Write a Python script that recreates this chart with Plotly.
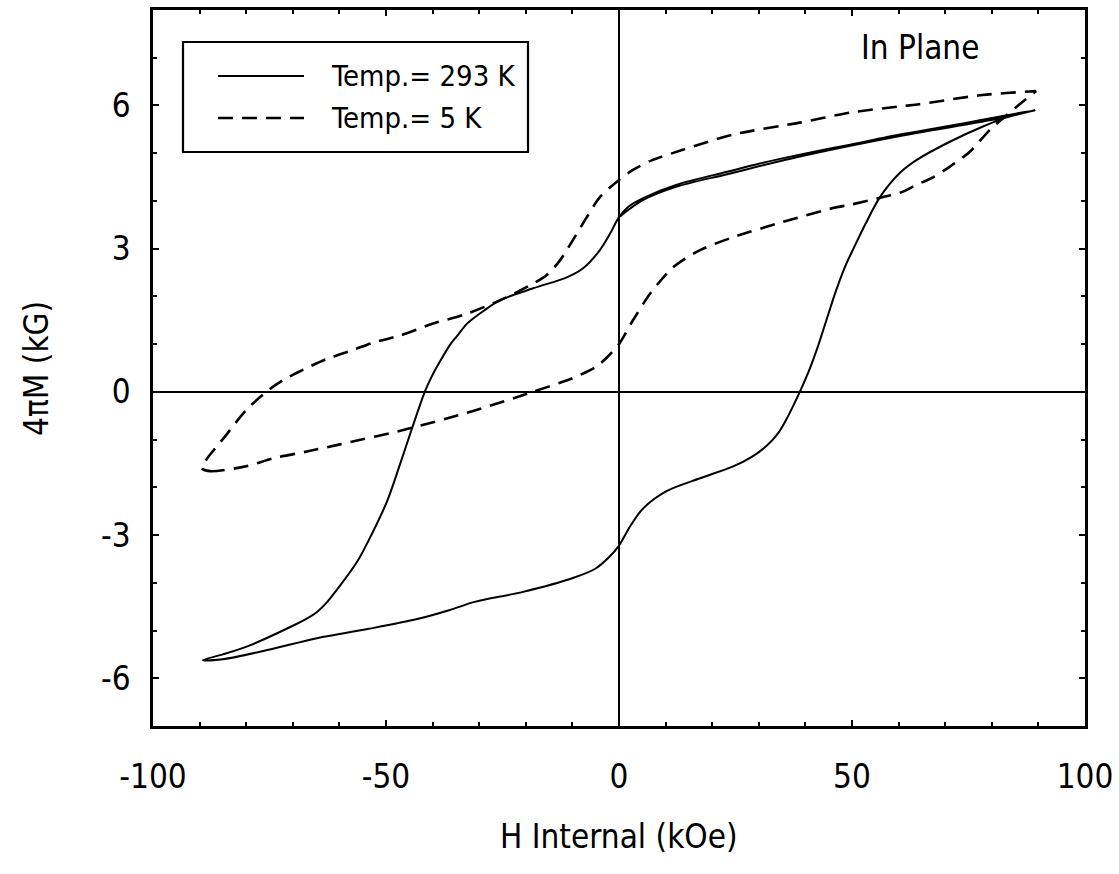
import plotly.graph_objects as go

# ---- 293 K loop (H in kOe, 4piM in kG) ----
# start on the upper branch, run down the descending branch, then back up the ascending branch
h293_start = [0.0, 5.2, 12.4, 23.2, 38.8, 60.3, 81.8, 89.3]
m293_start = [3.66, 4.02, 4.30, 4.56, 4.93, 5.36, 5.73, 5.90]

h293_down = [89.3, 81.8, 74.7, 65.0, 60.3, 49.6, 38.8, 30.0, 23.2, 12.4, 5.2, 2.0, 0.0,
             -2.0, -4.1, -7.7, -11.2, -18.4, -25.5, -29.0, -32.6, -34.5, -36.3, -38.4,
             -40.2, -41.6, -44.4, -47.0, -49.8, -52.8, -56.2, -60.5, -62.6, -64.8, -67.2,
             -70.0, -79.2, -85.0, -89.3]
m293_down = [5.90, 5.77, 5.64, 5.47, 5.39, 5.18, 4.97, 4.78, 4.61, 4.34, 4.06, 3.88, 3.66,
             3.30, 2.97, 2.59, 2.40, 2.17, 1.92, 1.70, 1.43, 1.20, 0.98, 0.64,
             0.32, 0.02, -0.76, -1.52, -2.30, -2.93, -3.56, -4.14, -4.40, -4.61, -4.76,
             -4.90, -5.31, -5.50, -5.62]

h293_up = [-89.3, -85.0, -75.5, -64.8, -54.0, -43.3, -36.3, -31.0, -20.6, -9.9, -5.0,
           -2.0, 0.0, 2.5, 5.2, 10.2, 17.4, 24.5, 28.5, 31.8, 34.2, 36.0, 38.8, 40.8,
           42.5, 44.5, 46.5, 48.5, 50.8, 52.8, 56.0, 60.3, 63.9, 71.0, 78.1, 83.2, 89.3]
m293_up = [-5.62, -5.60, -5.41, -5.16, -4.97, -4.76, -4.57, -4.40, -4.19, -3.90, -3.70,
           -3.45, -3.22, -2.80, -2.44, -2.08, -1.81, -1.56, -1.36, -1.12, -0.86, -0.56, 0.00, 0.45,
           0.90, 1.50, 2.10, 2.62, 3.10, 3.50, 4.08, 4.59, 4.86, 5.24, 5.56, 5.75, 5.90]

# ---- 5 K loop ----
h5_down = [89.5, 78.0, 64.0, 60.3, 49.6, 38.8, 24.5, 13.7, 7.0, 3.0, 0.0, -4.1, -6.9,
           -9.9, -12.7, -15.5, -18.4, -25.5, -32.6, -39.9, -47.0, -52.8, -57.0, -62.7,
           -69.1, -72.0, -74.9, -79.8, -84.1, -89.5]
m5_down = [6.30, 6.22, 6.02, 5.98, 5.85, 5.64, 5.39, 5.07, 4.85, 4.65, 4.44, 4.08, 3.66,
           3.18, 2.75, 2.45, 2.27, 1.92, 1.64, 1.43, 1.18, 1.03, 0.88, 0.69,
           0.40, 0.25, 0.06, -0.36, -0.88, -1.60]

h5_up = [-89.5, -87.8, -80.0, -74.2, -67.0, -59.9, -45.5, -31.3, -19.1, -9.9, -5.0,
         -2.6, 0.0, 3.0, 6.7, 11.6, 17.4, 24.5, 35.2, 45.9, 49.6, 56.7, 60.3, 63.9,
         67.5, 71.0, 75.3, 79.6, 85.4, 89.5]
m5_up = [-1.60, -1.66, -1.56, -1.39, -1.25, -1.10, -0.78, -0.40, -0.02, 0.29, 0.52,
         0.72, 1.00, 1.50, 2.06, 2.61, 2.97, 3.24, 3.56, 3.85, 3.92, 4.08, 4.17, 4.34,
         4.50, 4.72, 5.03, 5.49, 5.98, 6.30]

series_names = ["Temp.= 293 K", "Temp.= 5 K"]
plot_note = "In Plane"
x_title = "H Internal (kOe)"
y_title = "4\u03c0M (kG)"
x_tickvals = [-100, -50, 0, 50, 100]
x_ticktext = ["-100", "-50", "0", "50", "100"]
y_tickvals = [-6, -3, 0, 3, 6]
y_ticktext = ["-6", "-3", "0", "3", "6"]

FONT = "DejaVu Sans Condensed, Liberation Sans Narrow, Arial Narrow, Liberation Sans, sans-serif"
FS = 33
FS_LEGEND = 29
INK = "black"

h293 = h293_start + h293_down[1:] + h293_up[1:]
m293 = m293_start + m293_down[1:] + m293_up[1:]
# repeating the turning point keeps the tip of the 5 K loop sharp
h5 = h5_up + h5_down
m5 = m5_up + m5_down

fig = go.Figure()
fig.add_trace(go.Scatter(
    x=h293, y=m293, mode="lines", name=series_names[0], showlegend=False,
    line=dict(color=INK, width=2, shape="spline", smoothing=0.9),
))
fig.add_trace(go.Scatter(
    x=h5, y=m5, mode="lines", name=series_names[1], showlegend=False,
    line=dict(color=INK, width=2.6, dash="15px,9px", shape="spline", smoothing=0.8),
))

axis_common = dict(
    showline=True, linecolor=INK, linewidth=2.5, mirror="allticks",
    ticks="inside", ticklen=6, tickwidth=1.5, tickcolor=INK,
    showgrid=False, zeroline=True, zerolinecolor=INK, zerolinewidth=2,
    tickfont=dict(family=FONT, size=FS, color=INK),
)

fig.update_xaxes(
    range=[-100, 100], tickmode="array", tickvals=x_tickvals, ticktext=x_ticktext,
    minor=dict(dtick=10, ticks="inside", ticklen=4, tickcolor=INK, showgrid=False),
    ticklabelstandoff=20, **axis_common,
)
fig.update_yaxes(
    range=[-7, 8], tickmode="array", tickvals=y_tickvals, ticktext=y_ticktext,
    minor=dict(dtick=1, ticks="inside", ticklen=4, tickcolor=INK, showgrid=False),
    ticklabelstandoff=13, **axis_common,
)

# legend box drawn in paper coordinates
def px_x(px):
    return (px - 153) / (1085 - 153)

def px_y(py):
    return (726 - py) / (726 - 10)

fig.add_shape(type="rect", xref="paper", yref="paper",
              x0=px_x(183), x1=px_x(528), y0=px_y(152), y1=px_y(42),
              line=dict(color=INK, width=2.2), fillcolor="white", layer="above")
fig.add_shape(type="line", xref="paper", yref="paper",
              x0=px_x(218), x1=px_x(304), y0=px_y(76), y1=px_y(76),
              line=dict(color=INK, width=2))
fig.add_shape(type="line", xref="paper", yref="paper",
              x0=px_x(218), x1=px_x(304), y0=px_y(118), y1=px_y(118),
              line=dict(color=INK, width=2.6, dash="15px,9px"))
for name, py in zip(series_names, [76, 118]):
    fig.add_annotation(xref="paper", yref="paper", x=px_x(329), y=px_y(py),
                       text=name, showarrow=False, xanchor="left", yanchor="middle",
                       font=dict(family=FONT, size=FS_LEGEND, color=INK))

fig.add_annotation(xref="paper", yref="paper", x=px_x(920), y=px_y(47),
                   text=plot_note, showarrow=False, xanchor="center", yanchor="middle",
                   font=dict(family=FONT, size=FS, color=INK))

# axis titles
fig.add_annotation(xref="paper", yref="paper", x=0.5, y=px_y(836),
                   text=x_title, showarrow=False, xanchor="center", yanchor="middle",
                   font=dict(family=FONT, size=FS, color=INK))
fig.add_annotation(xref="paper", yref="paper", x=px_x(36), y=0.5,
                   text=y_title, showarrow=False, textangle=-90,
                   xanchor="center", yanchor="middle",
                   font=dict(family=FONT, size=FS, color=INK))

fig.update_layout(
    width=1119, height=874,
    margin=dict(l=153, r=34, t=10, b=148, autoexpand=False),
    paper_bgcolor="white", plot_bgcolor="white",
    showlegend=False,
)

fig.write_html("out.html")
